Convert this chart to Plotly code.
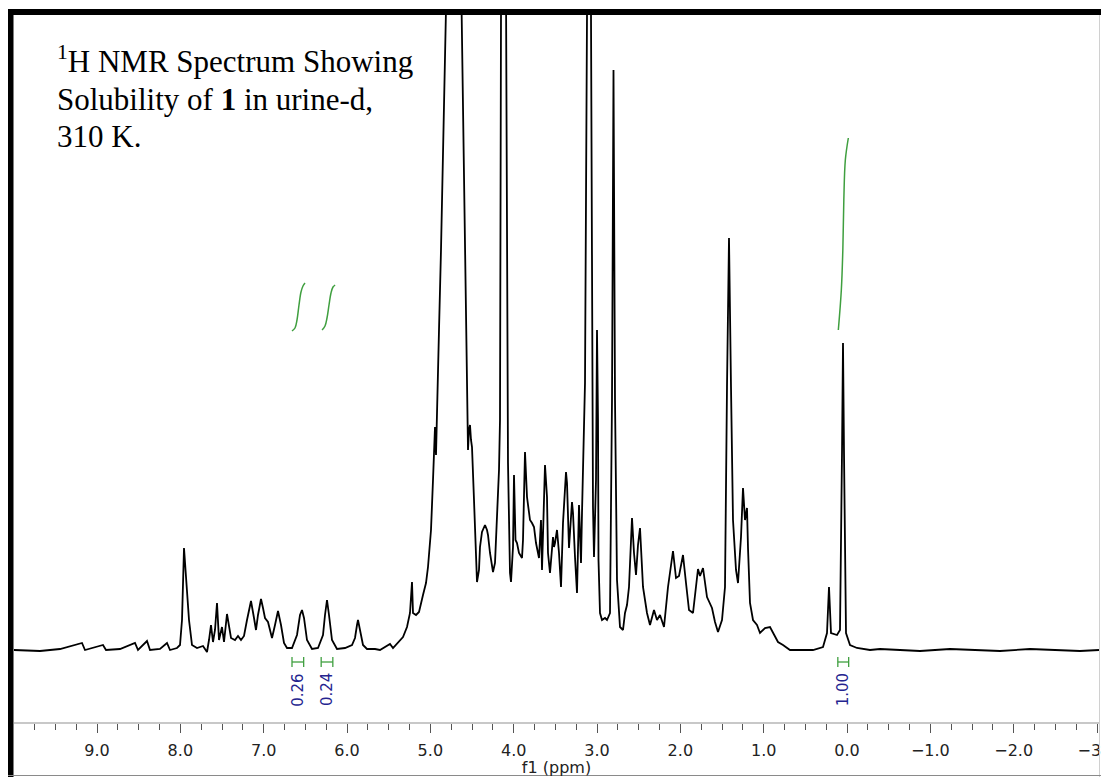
import plotly.graph_objects as go

# ---------------- data ----------------
spectrum_ppm = [
    10.0, 9.684, 9.444, 9.180, 9.144, 8.928, 8.892, 8.724, 8.544, 8.508, 8.400, 8.364, 8.244,
    8.160, 8.124, 8.040, 8.004, 7.980, 7.956, 7.932, 7.920, 7.896, 7.860, 7.800, 7.728, 7.680,
    7.656, 7.632, 7.608, 7.584, 7.560, 7.536, 7.500, 7.476, 7.440, 7.392, 7.344, 7.308, 7.272,
    7.236, 7.200, 7.152, 7.116, 7.092, 7.068, 7.032, 7.008, 6.984, 6.948, 6.900, 6.864, 6.828,
    6.792, 6.756, 6.720, 6.660, 6.600, 6.564, 6.540, 6.516, 6.480, 6.420, 6.348, 6.288, 6.264,
    6.240, 6.216, 6.180, 6.120, 6.024, 5.940, 5.904, 5.880, 5.868, 5.844, 5.808, 5.760, 5.664,
    5.604, 5.484, 5.448, 5.388, 5.328, 5.280, 5.244, 5.220, 5.208, 5.172, 5.136, 5.088, 5.052,
    5.028, 4.992, 4.968, 4.956, 4.944, 4.932, 4.920, 4.896, 4.872, 4.836, 4.800, 4.710, 4.624,
    4.604, 4.584, 4.564, 4.560, 4.548, 4.536, 4.524, 4.512, 4.500, 4.476, 4.464, 4.452, 4.440,
    4.416, 4.404, 4.380, 4.344, 4.320, 4.308, 4.284, 4.260, 4.248, 4.224, 4.200, 4.176, 4.164,
    4.152, 4.122, 4.092, 4.080, 4.068, 4.044, 4.032, 4.008, 3.996, 3.978, 3.960, 3.936, 3.900,
    3.888, 3.864, 3.840, 3.816, 3.804, 3.780, 3.756, 3.732, 3.708, 3.696, 3.672, 3.660, 3.624,
    3.600, 3.588, 3.564, 3.528, 3.516, 3.504, 3.480, 3.456, 3.432, 3.408, 3.372, 3.360, 3.336,
    3.300, 3.288, 3.264, 3.240, 3.216, 3.192, 3.180, 3.156, 3.144, 3.120, 3.096, 3.072, 3.060,
    3.048, 3.036, 3.012, 3.000, 2.988, 2.982, 2.964, 2.940, 2.904, 2.880, 2.844, 2.820, 2.802,
    2.784, 2.760, 2.724, 2.688, 2.664, 2.640, 2.616, 2.580, 2.556, 2.532, 2.508, 2.484, 2.448,
    2.400, 2.364, 2.316, 2.280, 2.244, 2.196, 2.148, 2.088, 2.052, 2.016, 1.968, 1.932, 1.896,
    1.848, 1.812, 1.788, 1.764, 1.728, 1.680, 1.620, 1.584, 1.548, 1.500, 1.464, 1.440, 1.416,
    1.392, 1.368, 1.332, 1.308, 1.272, 1.248, 1.224, 1.212, 1.200, 1.188, 1.164, 1.128, 1.080,
    1.044, 0.984, 0.924, 0.888, 0.828, 0.768, 0.684, 0.564, 0.408, 0.288, 0.240, 0.216, 0.192,
    0.120, 0.084, 0.060, 0.048, 0.036, 0.012, -0.036, -0.120, -0.276, -0.396, -0.636, -0.876,
    -1.236, -1.596, -1.836, -2.196, -2.436, -2.796, -3.024,
]
spectrum_intensity = [
    0, -1, 1, 7, 0, 5, 0, 1, 7, 0, 9, 0, 1,
    7, 0, 2, 5, 30, 102, 70, 58, 30, 5, 2, 4, -2,
    10, 25, 8, 20, 47, 10, 23, 8, 36, 12, 10, 14, 10,
    14, 30, 49, 32, 20, 35, 51, 42, 32, 28, 12, 25, 39,
    25, 7, 2, 2, 15, 35, 40, 32, 10, 1, 2, 15, 35,
    50, 35, 10, 1, 2, 5, 12, 25, 30, 20, 5, 1, 1,
    0, 6, 2, 7, 13, 23, 37, 68, 37, 35, 38, 55, 67,
    83, 120, 170, 192, 223, 195, 230, 320, 400, 520, 635, 1050, 635,
    517, 400, 267, 227, 200, 220, 225, 210, 203, 150, 120, 85, 68,
    80, 103, 118, 125, 120, 115, 97, 82, 78, 87, 127, 180, 230,
    635, 1250, 635, 267, 187, 77, 68, 103, 175, 110, 107, 97, 92,
    110, 198, 153, 133, 130, 127, 123, 107, 97, 92, 130, 80, 185,
    153, 97, 77, 113, 103, 107, 120, 97, 63, 127, 178, 167, 102,
    148, 137, 93, 57, 145, 87, 137, 237, 267, 635, 1250, 635, 267,
    143, 93, 170, 320, 230, 90, 37, 30, 32, 30, 37, 250, 580,
    250, 70, 23, 20, 37, 45, 63, 132, 97, 75, 105, 122, 63,
    37, 25, 40, 30, 35, 23, 63, 99, 72, 74, 95, 67, 40,
    37, 60, 81, 74, 82, 53, 42, 28, 18, 30, 63, 263, 412,
    263, 130, 80, 67, 113, 162, 130, 135, 142, 102, 47, 30, 25,
    17, 22, 23, 17, 8, 5, 0, 0, 0, 3, 17, 63, 17,
    15, 20, 197, 307, 197, 17, 5, 2, 0, 1, 0, -1,
    1, 0, -1, 1, 0, -1, 0,
]

# integral regions: start / end (ppm), value label, integral-curve traces
integral_start_ppm = [6.66, 6.31, 0.11]
integral_end_ppm = [6.52, 6.17, -0.02]
integral_labels = ["0.26", "0.24", "1.00"]

integral1_ppm = [6.660, 6.624, 6.600, 6.576, 6.552, 6.528, 6.504]
integral1_val = [319, 322, 330, 345, 358, 364, 367]
integral2_ppm = [6.299, 6.264, 6.240, 6.216, 6.192, 6.168, 6.143]
integral2_val = [320, 324, 332, 345, 357, 363, 365]
integral3_ppm = [0.104, 0.068, 0.050, 0.038, 0.020, -0.016]
integral3_val = [320, 360, 400, 450, 490, 512]

tick_values = [10.0, 9.0, 8.0, 7.0, 6.0, 5.0, 4.0, 3.0, 2.0, 1.0, 0.0, -1.0, -2.0, -3.0]
tick_labels = ["10.0", "9.0", "8.0", "7.0", "6.0", "5.0", "4.0", "3.0", "2.0", "1.0", "0.0",
               "\u22121.0", "\u22122.0", "\u22123.0"]

title_lines = ["<sup>1</sup>H NMR Spectrum Showing",
               "Solubility of <b>1</b> in urine-d,",
               "310 K."]
x_title = "f1 (ppm)"

# ---------------- figure ----------------
GREEN = "#3f9f3f"
NAVY = "#24248f"

W, H = 1101, 777
ml, mr, mt, mb = 14, 2, 15, 55
pw, ph = W - ml - mr, H - mt - mb


def px_x(p):
    return (p - ml) / pw


def px_y(p):
    return (H - mb - p) / ph


fig = go.Figure()
fig.add_trace(go.Scatter(x=spectrum_ppm, y=spectrum_intensity, mode="lines",
                         line=dict(color="black", width=1.8), hoverinfo="skip"))

for px, iv in [(integral1_ppm, integral1_val), (integral2_ppm, integral2_val),
               (integral3_ppm, integral3_val)]:
    fig.add_trace(go.Scatter(x=px, y=iv, mode="lines",
                             line=dict(color=GREEN, width=1.5, shape="spline"),
                             hoverinfo="skip"))

annotations = []
for s, e, lab in zip(integral_start_ppm, integral_end_ppm, integral_labels):
    fig.add_trace(go.Scatter(x=[s, e], y=[-12, -12], mode="lines+markers",
                             line=dict(color=GREEN, width=1.3),
                             marker=dict(symbol="line-ns", size=7,
                                         line=dict(color=GREEN, width=1.3)),
                             hoverinfo="skip"))
    annotations.append(dict(x=(s + e) / 2, y=-40, xref="x", yref="y", text=lab,
                            showarrow=False, textangle=-90,
                            font=dict(family="DejaVu Sans", size=15, color=NAVY),
                            xanchor="center", yanchor="middle"))

title_bottoms_px = [79, 116.5, 154]
for line, yb in zip(title_lines, title_bottoms_px):
    annotations.append(dict(x=px_x(57), y=px_y(yb), xref="paper", yref="paper", text=line,
                            showarrow=False, align="left", xanchor="left", yanchor="bottom",
                            borderpad=0, borderwidth=0,
                            font=dict(family="Liberation Serif", size=31, color="black")))

shapes = [
    # white mask left of the frame
    dict(type="rect", xref="paper", yref="paper", x0=px_x(-5), x1=px_x(8),
         y0=px_y(H + 5), y1=px_y(-5), fillcolor="white", line=dict(width=0), layer="above"),
    # thick black left frame
    dict(type="rect", xref="paper", yref="paper", x0=px_x(8), x1=px_x(13.5),
         y0=px_y(H + 5), y1=px_y(9), fillcolor="black", line=dict(width=0), layer="above"),
    # thick black top frame
    dict(type="rect", xref="paper", yref="paper", x0=px_x(8), x1=px_x(W + 5),
         y0=px_y(15), y1=px_y(9), fillcolor="black", line=dict(width=0), layer="above"),
    # thin right line
    dict(type="line", xref="paper", yref="paper", x0=px_x(1099.5), x1=px_x(1099.5),
         y0=px_y(15), y1=px_y(H), line=dict(color="#d0d0d0", width=1), layer="above"),
    # bottom line
    dict(type="line", xref="paper", yref="paper", x0=px_x(8), x1=px_x(W),
         y0=px_y(775.5), y1=px_y(775.5), line=dict(color="#8a8a8a", width=1), layer="above"),
]

fig.update_layout(
    width=W, height=H, autosize=False,
    margin=dict(l=ml, r=mr, t=mt, b=mb, pad=0, autoexpand=False),
    paper_bgcolor="white", plot_bgcolor="white",
    showlegend=False,
    annotations=annotations,
    shapes=shapes,
    xaxis=dict(
        range=[9.996, -3.024], autorange=False, automargin=False,
        showgrid=False, zeroline=False,
        showline=True, linecolor="#c8c8c8", linewidth=2,
        ticks="outside", ticklen=9, tickwidth=1, tickcolor="#555555",
        tickmode="array", tickvals=tick_values, ticktext=tick_labels,
        ticklabeloverflow="allow", ticklabelstandoff=4,
        tickfont=dict(family="DejaVu Sans", size=16, color="#222222"),
        minor=dict(tickmode="linear", tick0=0, dtick=0.25, ticks="outside",
                   ticklen=6, tickwidth=1, tickcolor="#555555", showgrid=False),
        title=dict(text=x_title, standoff=0,
                   font=dict(family="DejaVu Sans", size=16, color="#222222")),
    ),
    yaxis=dict(range=[-72, 635], visible=False, automargin=False,
               showgrid=False, zeroline=False),
)

fig.write_html(
    "out.html",
    config={"responsive": False, "displayModeBar": False},
    post_script=(
        "document.body.style.margin='0px';"
        "document.body.style.padding='0px';"
        "document.documentElement.style.overflow='hidden';"
    ),
)
